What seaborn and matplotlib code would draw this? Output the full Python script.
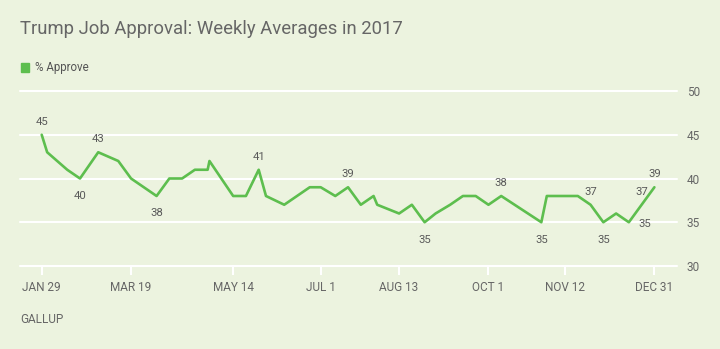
import matplotlib
matplotlib.use("Agg")
import matplotlib.pyplot as plt
import matplotlib.dates as mdates
import pandas as pd
import seaborn as sns
from matplotlib.patches import Rectangle

# ---- data ----
dates = ["2017-01-29", "2017-02-01", "2017-02-12", "2017-02-19", "2017-03-01",
         "2017-03-12", "2017-03-19", "2017-04-02", "2017-04-09", "2017-04-16",
         "2017-04-23", "2017-04-30", "2017-05-01", "2017-05-14", "2017-05-21",
         "2017-05-28", "2017-06-01", "2017-06-11", "2017-06-25", "2017-07-01",
         "2017-07-09", "2017-07-16", "2017-07-23", "2017-07-30", "2017-08-01",
         "2017-08-13", "2017-08-20", "2017-08-27", "2017-09-02", "2017-09-10",
         "2017-09-17", "2017-09-24", "2017-10-01", "2017-10-08", "2017-10-30",
         "2017-11-02", "2017-11-19", "2017-11-26", "2017-12-03", "2017-12-10",
         "2017-12-17", "2017-12-24", "2017-12-31"]
approve = [45, 43, 41, 40, 43,
           42, 40, 38, 40, 40,
           41, 41, 42, 38, 38,
           41, 38, 37, 39, 39,
           38, 39, 37, 38, 37,
           36, 37, 35, 36, 37,
           38, 38, 37, 38, 35,
           38, 38, 37, 35, 36,
           35, 37, 39]

label_dates = ["2017-01-29", "2017-02-19", "2017-03-01", "2017-04-02", "2017-05-28",
               "2017-07-16", "2017-08-27", "2017-10-08", "2017-10-30", "2017-11-26",
               "2017-12-03", "2017-12-17", "2017-12-24", "2017-12-31"]
label_pos = ["above", "below", "above", "below", "above",
             "above", "below", "above", "below", "above",
             "below", "right", "above", "above"]

tick_dates = ["2017-01-29", "2017-03-19", "2017-05-14", "2017-07-01",
              "2017-08-13", "2017-10-01", "2017-11-12", "2017-12-31"]
tick_labels = ["JAN 29", "MAR 19", "MAY 14", "JUL 1", "AUG 13", "OCT 1", "NOV 12", "DEC 31"]
y_ticks = [30, 35, 40, 45, 50]

title = "Trump Job Approval: Weekly Averages in 2017"
series_name = "% Approve"
source = "GALLUP"

# ---- style ----
BG = "#ECF3DF"
GREEN = "#5DBE4E"
TXT = "#666666"
sns.set_theme(style="white")
plt.rcParams["font.family"] = ["Roboto", "DejaVu Sans"]

df = pd.DataFrame({"date": pd.to_datetime(dates), "approve": approve})

fig = plt.figure(figsize=(7.2, 3.49), dpi=100, facecolor=BG)
ax = fig.add_axes([20 / 720, 1 - 266 / 349, (677 - 20) / 720, 175 / 349])
ax.set_facecolor(BG)

sns.lineplot(data=df, x="date", y="approve", ax=ax, color=GREEN,
             linewidth=1.9, legend=False)

ax.set_ylim(30, 50)
start = pd.Timestamp("2017-01-29")
ax.set_xlim(mdates.date2num(start - pd.Timedelta(days=11.9)),
            mdates.date2num(start + pd.Timedelta(days=348.4)))

for s in ax.spines.values():
    s.set_visible(False)

ax.set_yticks(y_ticks)
ax.yaxis.tick_right()
ax.tick_params(axis="y", length=0, pad=7, labelsize=8.5, labelcolor=TXT)
ax.yaxis.grid(True, color="white", linewidth=1.5)
ax.xaxis.grid(False)
for gl in ax.get_ygridlines():
    gl.set_clip_on(False)

ax.set_xticks([mdates.date2num(pd.Timestamp(d)) for d in tick_dates])
ax.set_xticklabels(tick_labels)
ax.tick_params(axis="x", bottom=True, direction="out", length=6.5, width=1.5,
               color="white", pad=4, labelsize=8.5, labelcolor=TXT)
ax.set_xlabel("")
ax.set_ylabel("")

lookup = dict(zip(dates, approve))
offsets = {"above": (0, 9.2), "below": (0, -12.5), "right": (11.5, -1.4)}
for d, p in zip(label_dates, label_pos):
    v = lookup[d]
    ax.annotate(str(v), (mdates.date2num(pd.Timestamp(d)), v),
                xytext=offsets[p], textcoords="offset points",
                ha="center", va="center", fontsize=8.2, color="#5a5a5a")

fig.text(20 / 720, 1 - 34.3 / 349, title, fontsize=13.3, color=TXT, va="baseline", ha="left")
fig.patches.append(Rectangle((20.5 / 720, 1 - 72.3 / 349), 8.8 / 720, 9 / 349,
                             transform=fig.transFigure, color=GREEN, figure=fig))
fig.text(35 / 720, 1 - 71 / 349, series_name, fontsize=8.3, color="#555555",
         va="baseline", ha="left")
fig.text(20 / 720, 1 - 323.3 / 349, source, fontsize=8.5, color=TXT,
         va="baseline", ha="left")

fig.savefig("out.png", dpi=100, facecolor=BG)
